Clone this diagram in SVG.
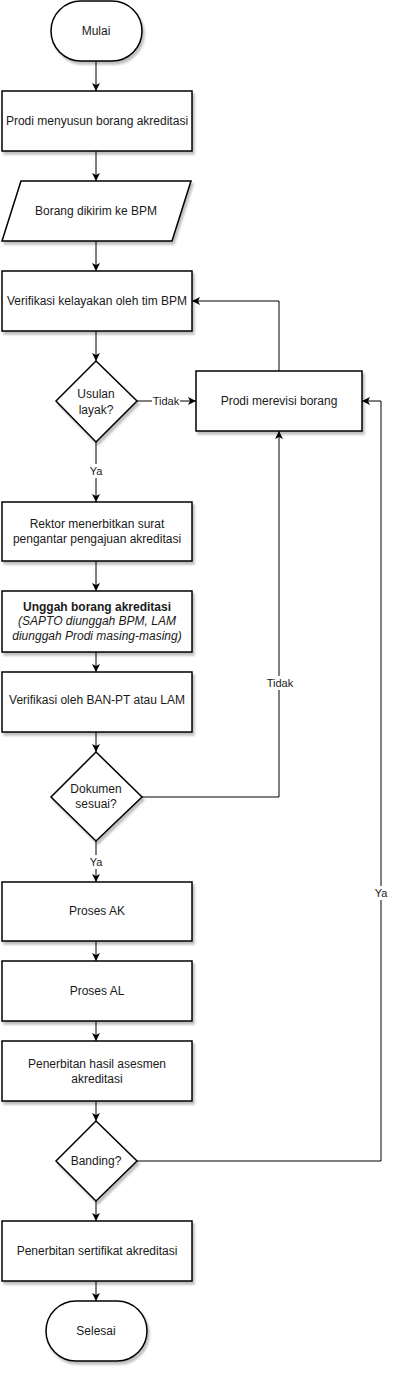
<svg xmlns="http://www.w3.org/2000/svg" width="401" height="1373" viewBox="0 0 401 1373">
<style>
.n{fill:#fff;stroke:#000;stroke-width:1.5;filter:url(#sh)}
.t{font-family:"Liberation Sans",Arial,sans-serif;font-size:12px;fill:#1a1a1a;text-anchor:middle;dominant-baseline:central}
.e{fill:none;stroke:#000;stroke-width:1;marker-end:url(#ar)}
.lb{font-family:"Liberation Sans",Arial,sans-serif;font-size:11px;fill:#1a1a1a;text-anchor:middle;dominant-baseline:central}
.lbg{fill:#fff}
</style>
<defs>
<filter id="sh" x="-10%" y="-10%" width="130%" height="130%">
<feDropShadow dx="2" dy="3" stdDeviation="1.2" flood-color="#000" flood-opacity="0.25"/>
</filter>
<marker id="ar" markerUnits="userSpaceOnUse" viewBox="0 0 8 8" refX="8" refY="4" markerWidth="8" markerHeight="8" orient="auto">
<path d="M0,0 L8,4 L0,8 L2,4 z" fill="#000"/>
</marker>
</defs>
<g id="edges">
<path class="e" d="M96,61 V91"/>
<path class="e" d="M96,151 V181"/>
<path class="e" d="M96,241 V271"/>
<path class="e" d="M96,331 V361"/>
<path class="e" d="M137,401 H196"/>
<path class="e" d="M96,442 V502"/>
<path class="e" d="M96,561 V591"/>
<path class="e" d="M96,652 V672"/>
<path class="e" d="M96,732 V752"/>
<path class="e" d="M96,841 V882"/>
<path class="e" d="M142,797 H279 V431"/>
<path class="e" d="M279,371 V301 H192"/>
<path class="e" d="M96,941 V961"/>
<path class="e" d="M96,1021 V1041"/>
<path class="e" d="M96,1101 V1121"/>
<path class="e" d="M96,1201 V1221"/>
<path class="e" d="M137,1161 H381 V401 H362"/>
<path class="e" d="M96,1281 V1301"/>
<rect class="lbg" x="152" y="394" width="28" height="14"/>
<text class="lb" x="166" y="401">Tidak</text>
<rect class="lbg" x="89" y="464" width="14" height="14"/>
<text class="lb" x="96" y="471">Ya</text>
<rect class="lbg" x="266" y="676" width="28" height="14"/>
<text class="lb" x="280" y="683">Tidak</text>
<rect class="lbg" x="89" y="855" width="14" height="14"/>
<text class="lb" x="96" y="862">Ya</text>
<rect class="lbg" x="374" y="886" width="14" height="14"/>
<text class="lb" x="381" y="893">Ya</text>
</g>
<g id="mulai">
<rect class="n" x="51" y="1" width="91" height="60" rx="30" ry="30"/>
<text class="t" x="96" y="31">Mulai</text>
</g>
<g id="prodi-menyusun">
<rect class="n" x="2" y="91" width="190" height="60"/>
<text class="t" x="97" y="121">Prodi menyusun borang akreditasi</text>
</g>
<g id="borang-dikirim">
<path class="n" d="M21,181 H191 L172,241 H2 Z"/>
<text class="t" x="96" y="211">Borang dikirim ke BPM</text>
</g>
<g id="verifikasi-bpm">
<rect class="n" x="2" y="271" width="190" height="60"/>
<text class="t" x="97" y="301">Verifikasi kelayakan oleh tim BPM</text>
</g>
<g id="usulan-layak">
<path class="n" d="M96,361 L137,401 L96,442 L56,401 Z"/>
<text class="t" x="96" y="394">Usulan</text>
<text class="t" x="96" y="410">layak?</text>
</g>
<g id="prodi-merevisi">
<rect class="n" x="196" y="371" width="166" height="60"/>
<text class="t" x="279" y="401">Prodi merevisi borang</text>
</g>
<g id="rektor">
<rect class="n" x="2" y="502" width="190" height="59"/>
<text class="t" x="97" y="524">Rektor menerbitkan surat</text>
<text class="t" x="97" y="539">pengantar pengajuan akreditasi</text>
</g>
<g id="unggah">
<rect class="n" x="2" y="591" width="190" height="61"/>
<text class="t" x="97" y="607" font-weight="bold">Unggah borang akreditasi</text>
<text class="t" x="97" y="621" font-style="italic">(SAPTO diunggah BPM, LAM</text>
<text class="t" x="97" y="636" font-style="italic">diunggah Prodi masing-masing)</text>
</g>
<g id="verifikasi-ban">
<rect class="n" x="2" y="672" width="190" height="60"/>
<text class="t" x="97" y="700">Verifikasi oleh BAN-PT atau LAM</text>
</g>
<g id="dokumen-sesuai">
<path class="n" d="M96,752 L142,797 L96,841 L51,797 Z"/>
<text class="t" x="96" y="789">Dokumen</text>
<text class="t" x="96" y="804">sesuai?</text>
</g>
<g id="proses-ak">
<rect class="n" x="2" y="882" width="190" height="59"/>
<text class="t" x="97" y="911">Proses AK</text>
</g>
<g id="proses-al">
<rect class="n" x="2" y="961" width="190" height="60"/>
<text class="t" x="97" y="991">Proses AL</text>
</g>
<g id="penerbitan-hasil">
<rect class="n" x="2" y="1041" width="190" height="60"/>
<text class="t" x="97" y="1064">Penerbitan hasil asesmen</text>
<text class="t" x="97" y="1079">akreditasi</text>
</g>
<g id="banding">
<path class="n" d="M96,1121 L137,1161 L96,1201 L56,1161 Z"/>
<text class="t" x="96" y="1161">Banding?</text>
</g>
<g id="penerbitan-sertifikat">
<rect class="n" x="2" y="1221" width="190" height="60"/>
<text class="t" x="97" y="1251">Penerbitan sertifikat akreditasi</text>
</g>
<g id="selesai">
<rect class="n" x="46" y="1301" width="101" height="60" rx="30" ry="30"/>
<text class="t" x="96" y="1331">Selesai</text>
</g>
</svg>
